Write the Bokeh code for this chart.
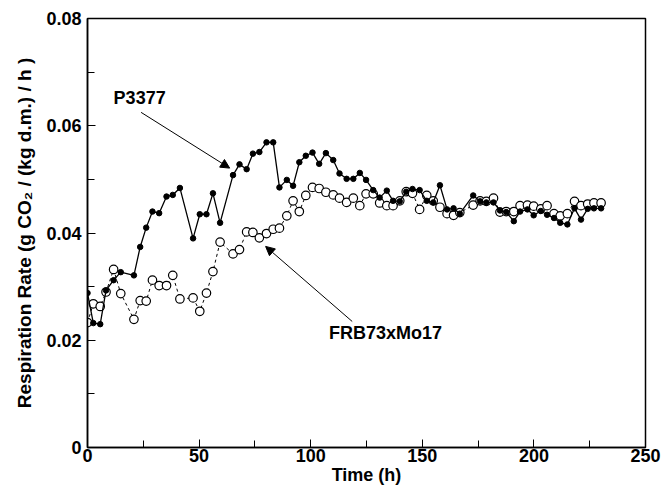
from bokeh.plotting import figure
from bokeh.models import (Range1d, FixedTicker, CustomJSTickFormatter, Label, Arrow, NormalHead)
from bokeh.embed import file_html
from bokeh.resources import INLINE

time_h = [0, 2.6, 5.7, 8.3, 11.7, 14.9, 20.8, 23.6, 26.3, 29.1, 32.1, 35.4, 38.2, 41.4,
          47.3, 50.3, 53.3, 56.2, 59.4, 65.2, 68.1, 71.3, 74.1, 77.0, 80.2, 83.2, 86.0,
          89.3, 92.1, 94.9, 97.8, 100.8, 103.8, 106.8, 110.1, 112.9, 116.1, 119.1, 122.0,
          124.8, 128.0, 130.9, 134.1, 136.9, 139.9, 142.8, 145.6, 148.8, 152.0, 154.9,
          157.9, 161.1, 164.0, 166.8, 172.8, 175.9, 178.7, 181.9, 184.8, 187.6, 191.0,
          193.8, 197.1, 199.9, 203.1, 205.9, 209.0, 211.8, 215.0, 218.2, 221.1, 224.1,
          226.9, 230.1]

p3377 = [0.0288, 0.0232, 0.0230, 0.0293, 0.0312, 0.0327, 0.0321, 0.0374, 0.0410, 0.0440,
         0.0437, 0.0468, 0.0471, 0.0484, 0.0390, 0.0435, 0.0435, 0.0474, 0.0419, 0.0508,
         0.0528, 0.0519, 0.0548, 0.0551, 0.0569, 0.0569, 0.0485, 0.0499, 0.0488, 0.0532,
         0.0544, 0.0550, 0.0529, 0.0549, 0.0536, 0.0511, 0.0501, 0.0501, 0.0512, 0.0499,
         0.0480, 0.0466, 0.0479, 0.0460, 0.0459, 0.0477, 0.0482, 0.0480, 0.0460, 0.0457,
         0.0489, 0.0444, 0.0446, 0.0436, 0.0470, 0.0459, 0.0457, 0.0457, 0.0442, 0.0439,
         0.0422, 0.0440, 0.0444, 0.0433, 0.0441, 0.0434, 0.0428, 0.0419, 0.0416, 0.0446,
         0.0425, 0.0445, 0.0446, 0.0446]

frb73 = [0.0233, 0.0268, 0.0263, 0.0290, 0.0332, 0.0287, 0.0239, 0.0274, 0.0273, 0.0312,
         0.0302, 0.0302, 0.0321, 0.0277, 0.0279, 0.0254, 0.0288, 0.0328, 0.0383, 0.0361,
         0.0369, 0.0402, 0.0401, 0.0391, 0.0399, 0.0407, 0.0409, 0.0432, 0.0460, 0.0440,
         0.0470, 0.0485, 0.0483, 0.0476, 0.0471, 0.0465, 0.0457, 0.0465, 0.0451, 0.0473,
         0.0473, 0.0456, 0.0451, 0.0451, 0.0460, 0.0477, 0.0474, 0.0444, 0.0470, 0.0460,
         0.0448, 0.0436, 0.0433, 0.0438, 0.0452, 0.0460, 0.0459, 0.0465, 0.0439, 0.0440,
         0.0440, 0.0451, 0.0452, 0.0450, 0.0445, 0.0451, 0.0436, 0.0432, 0.0436, 0.0459,
         0.0451, 0.0454, 0.0456, 0.0456]

x_ticks = [0, 50, 100, 150, 200, 250]
x_minor = [25, 75, 125, 175, 225]
y_ticks = [0, 0.02, 0.04, 0.06, 0.08]
y_minor = [0.01, 0.03, 0.05, 0.07]

FONT = "Liberation Sans"

p = figure(width=662, height=488, output_backend="svg", toolbar_location=None,
           x_range=Range1d(0, 250), y_range=Range1d(0, 0.08),
           min_border_left=87, min_border_right=17, min_border_top=18, min_border_bottom=41)
p.background_fill_color = "white"
p.border_fill_color = "white"
p.xgrid.visible = False
p.ygrid.visible = False
p.outline_line_color = "black"
p.outline_line_width = 1.5

p.xaxis.ticker = FixedTicker(ticks=x_ticks, minor_ticks=x_minor)
p.yaxis.ticker = FixedTicker(ticks=y_ticks, minor_ticks=y_minor)
p.yaxis.formatter = CustomJSTickFormatter(code="return tick == 0 ? '0' : tick.toFixed(2);")

for ax in (p.xaxis[0], p.yaxis[0]):
    ax.major_tick_in = 8
    ax.major_tick_out = 0
    ax.minor_tick_in = 7
    ax.minor_tick_out = 0
    ax.axis_line_color = "black"
    ax.axis_line_width = 1.5
    ax.major_tick_line_width = 1
    ax.minor_tick_line_width = 1
    ax.major_label_text_font = FONT
    ax.major_label_text_font_size = "18px"
    ax.major_label_text_font_style = "bold"
    ax.major_label_text_color = "black"
    ax.axis_label_text_font = FONT
    ax.axis_label_text_font_size = "18px"
    ax.axis_label_text_font_style = "bold"
    ax.axis_label_text_color = "black"

p.xaxis.axis_label = "Time (h)"
p.yaxis.axis_label = "Respiration Rate (g CO\u2082 / (kg d.m.) / h )"
p.yaxis.axis_label_text_font_size = "19px"
p.xaxis.major_label_standoff = 1
p.xaxis.axis_label_standoff = 0
p.yaxis.major_label_standoff = 6
p.yaxis.axis_label_standoff = 8

# FRB73xMo17: open circles, dashed line
p.line(time_h, frb73, line_color="black", line_width=1, line_dash="3 3")
p.scatter(time_h, frb73, marker="circle", size=8.5, fill_color="white",
          line_color="black", line_width=1.2)

# P3377: filled circles, solid line
p.line(time_h, p3377, line_color="black", line_width=1.3)
p.scatter(time_h, p3377, marker="circle", size=5.5, fill_color="black", line_color="black")

p.add_layout(Label(x=11.7, y=0.0652, text="P3377", text_font=FONT, text_font_size="18px",
                   text_font_style="bold", text_baseline="middle", text_color="black"))
p.add_layout(Label(x=108.2, y=0.0213, text="FRB73xMo17", text_font=FONT, text_font_size="18px",
                   text_font_style="bold", text_baseline="middle", text_color="black"))

p.add_layout(Arrow(x_start=24.0, y_start=0.0625, x_end=63.7, y_end=0.0521,
                   line_color="black", line_width=1,
                   end=NormalHead(size=9, fill_color="black", line_color="black")))
p.add_layout(Arrow(x_start=118.6, y_start=0.0235, x_end=79.8, y_end=0.0375,
                   line_color="black", line_width=1,
                   end=NormalHead(size=9, fill_color="black", line_color="black")))

open("out.html", "w").write(file_html(p, INLINE))
